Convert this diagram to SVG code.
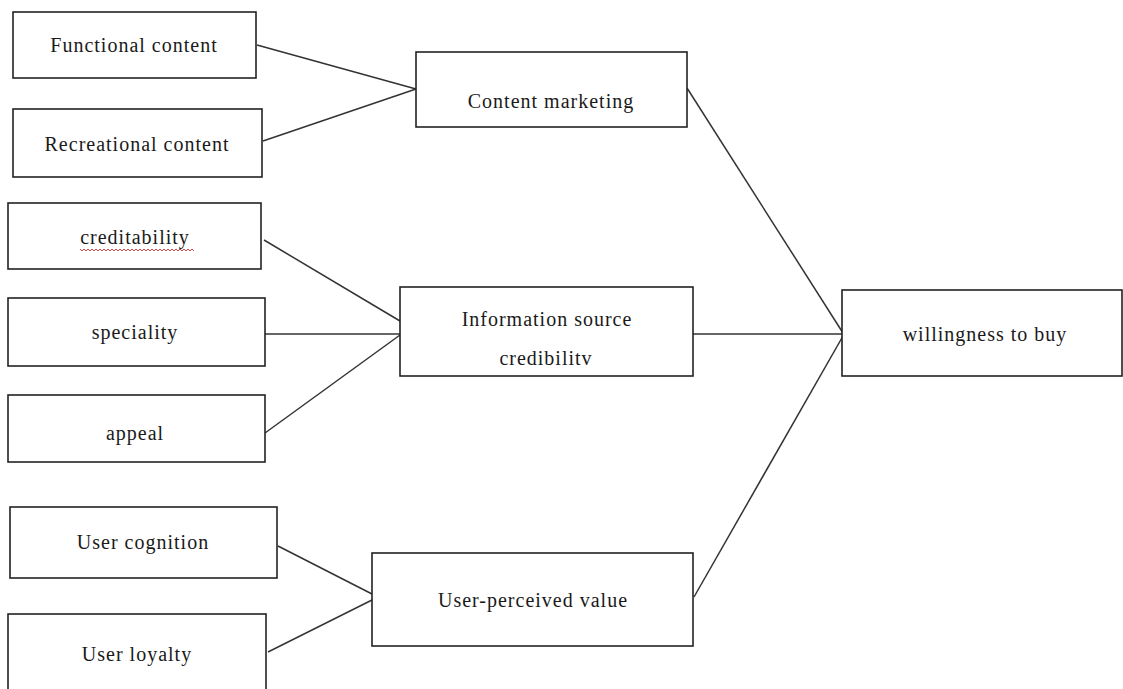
<svg xmlns="http://www.w3.org/2000/svg" width="1123" height="689" viewBox="0 0 1123 689">
<style>
.box{fill:#fff;stroke:#222;stroke-width:1.6}
.t{font-family:"Liberation Serif","Times New Roman",serif;font-size:20px;letter-spacing:1px;fill:#1a1a1a;text-anchor:middle;dominant-baseline:central}
.c{stroke:#333;stroke-width:1.5;fill:none}
</style>
<rect width="1123" height="689" fill="#fff"/>
<g id="connectors">
<line class="c" x1="257" y1="45" x2="416" y2="89"/>
<line class="c" x1="263" y1="141" x2="416" y2="89"/>
<line class="c" x1="264" y1="240" x2="400" y2="321"/>
<line class="c" x1="265" y1="334" x2="400" y2="334"/>
<line class="c" x1="265" y1="433" x2="400" y2="335"/>
<line class="c" x1="278" y1="546" x2="372" y2="594"/>
<line class="c" x1="268" y1="652" x2="372" y2="600"/>
<line class="c" x1="687" y1="88" x2="843" y2="333"/>
<line class="c" x1="693" y1="334" x2="843" y2="334"/>
<line class="c" x1="694" y1="597" x2="843" y2="336"/>
</g>
<g id="functional"><rect class="box" x="13" y="12" width="243" height="66"/><text class="t" x="134" y="45">Functional content</text></g>
<g id="recreational"><rect class="box" x="13" y="109" width="249" height="68"/><text class="t" x="137" y="144">Recreational content</text></g>
<g id="content-marketing"><rect class="box" x="416" y="52" width="271" height="75"/><text class="t" x="551" y="101">Content marketing</text></g>
<g id="creditability"><rect class="box" x="8" y="203" width="253" height="66"/><text class="t" x="135" y="237">creditability</text>
<path d="M80,249 l2,2 l2,-2 l2,2 l2,-2 l2,2 l2,-2 l2,2 l2,-2 l2,2 l2,-2 l2,2 l2,-2 l2,2 l2,-2 l2,2 l2,-2 l2,2 l2,-2 l2,2 l2,-2 l2,2 l2,-2 l2,2 l2,-2 l2,2 l2,-2 l2,2 l2,-2 l2,2 l2,-2 l2,2 l2,-2 l2,2 l2,-2 l2,2 l2,-2 l2,2 l2,-2 l2,2 l2,-2 l2,2 l2,-2 l2,2 l2,-2 l2,2 l2,-2 l2,2 l2,-2 l2,2 l2,-2 l2,2 l2,-2 l2,2 l2,-2 l2,2 l2,-2 l2,2" fill="none" stroke="#d03030" stroke-width="0.9"/></g>
<g id="speciality"><rect class="box" x="8" y="298" width="257" height="68"/><text class="t" x="135" y="332">speciality</text></g>
<g id="appeal"><rect class="box" x="8" y="395" width="257" height="67"/><text class="t" x="135" y="433">appeal</text></g>
<g id="info-source"><rect class="box" x="400" y="287" width="293" height="89"/><text class="t" x="547" y="319">Information source</text><text class="t" x="546" y="358">credibilitv</text></g>
<g id="willingness"><rect class="box" x="842" y="290" width="280" height="86"/><text class="t" x="985" y="334">willingness to buy</text></g>
<g id="user-cognition"><rect class="box" x="10" y="507" width="267" height="71"/><text class="t" x="143" y="542">User  cognition</text></g>
<g id="user-loyalty"><rect class="box" x="8" y="614" width="258" height="80"/><text class="t" x="137" y="654">User loyalty</text></g>
<g id="user-perceived"><rect class="box" x="372" y="553" width="321" height="93"/><text class="t" x="533" y="600">User-perceived value</text></g>
</svg>
